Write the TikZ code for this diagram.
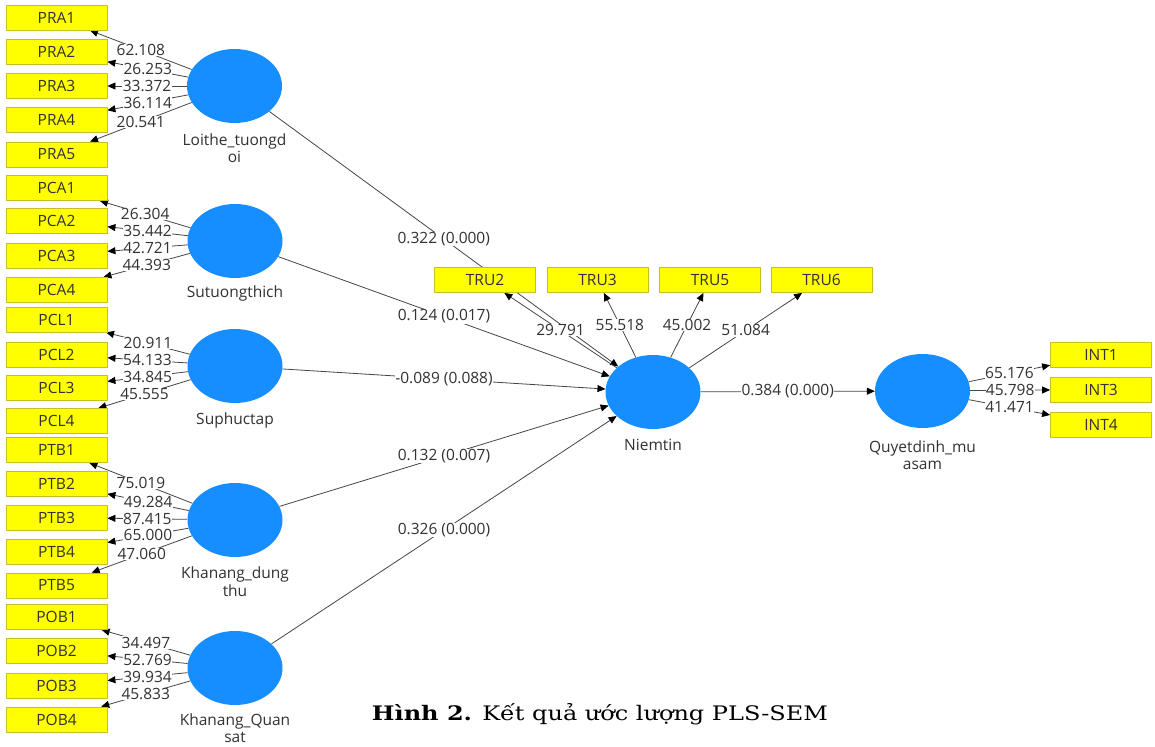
\documentclass[tikz,border=0pt]{standalone}
\usepackage{fontspec}
\usepackage{graphicx}
\setmainfont{Open Sans}
\newfontfamily\capfont{DejaVu Serif}
\usetikzlibrary{shapes.geometric,arrows.meta,backgrounds}
\definecolor{lvblue}{RGB}{22,142,255}
\definecolor{indfill}{RGB}{255,255,0}
\definecolor{indborder}{RGB}{200,190,40}
\definecolor{edgegray}{RGB}{70,70,70}
\definecolor{txtgray}{RGB}{50,50,50}
\begin{document}
\begin{tikzpicture}[x=1pt,y=-1pt,
 ind/.style={draw=indborder, fill=indfill, line width=0.8pt, minimum width=101pt, minimum height=25pt, inner sep=0pt, font=\fontsize{15.5}{17}\selectfont, text=txtgray},
 lv/.style={ellipse, fill=lvblue, minimum width=95pt, minimum height=74pt, inner sep=0pt},
 lvname/.style={font=\fontsize{15.5}{17.5}\selectfont, text=txtgray, align=center},
 wt/.style={fill=white, inner sep=0.4pt, font=\fontsize{15.5}{17}\selectfont, text=txtgray},
 conn/.style={draw=edgegray, line width=0.8pt, -{Triangle[length=8pt,width=7pt,color=black]}},
]
\useasboundingbox (0,0) rectangle (1155,746);

% indicator boxes (left)
\foreach \n/\y in {PRA1/17.5, PRA2/52, PRA3/86, PRA4/120, PRA5/154.5,
                   PCA1/188, PCA2/221, PCA3/255.5, PCA4/290,
                   PCL1/319.5, PCL2/354.5, PCL3/387.5, PCL4/421,
                   PTB1/450, PTB2/483.5, PTB3/517.5, PTB4/551.5, PTB5/585.5,
                   POB1/617, POB2/651, POB3/685.5, POB4/719.5}
  \node[ind] (\n) at (56.5,\y) {\n};
% indicator boxes (top)
\foreach \n/\x in {TRU2/485, TRU3/597.5, TRU5/710, TRU6/821.5}
  \node[ind] (\n) at (\x,280) {\n};
% indicator boxes (right)
\foreach \n/\y in {INT1/355, INT3/389.5, INT4/424.5}
  \node[ind] (\n) at (1101,\y) {\n};

% latent variables
\node[lv] (LT) at (234.5,86) {};
\node[lv] (ST) at (235,241) {};
\node[lv] (SP) at (235,366) {};
\node[lv] (KD) at (235,520) {};
\node[lv] (KQ) at (235,668) {};
\node[lv] (NT) at (653,392) {};
\node[lv] (QD) at (922.5,391) {};

\node[lvname] (LTn) at (234.5,148) {Loithe\_tuongd\\oi};
\node[lvname] (STn) at (235,293) {Sutuongthich};
\node[lvname] (SPn) at (235,420) {Suphuctap};
\node[lvname] (KDn) at (235,581.5) {Khanang\_dung\\thu};
\node[lvname] (KQn) at (235,728) {Khanang\_Quan\\sat};
\node[lvname] (NTn) at (653,445) {Niemtin};
\node[lvname] (QDn) at (922.5,455) {Quyetdinh\_mu\\asam};

\node[font=\capfont\fontsize{20}{22}\selectfont, text=black] (cap) at (600,714) {\scalebox{1.2}[1]{\textbf{Hình 2.} Kết quả ước lượng PLS-SEM}};

\begin{scope}[on background layer]
\fill[white] (0,0) rectangle (1155,746);
% structural paths
\draw[conn] (LT) -- node[wt]{0.322 (0.000)} (NT);
\draw[conn] (ST) -- node[wt]{0.124 (0.017)} (NT);
\draw[conn] (SP) -- node[wt]{-0.089 (0.088)} (NT);
\draw[conn] (KD) -- node[wt]{0.132 (0.007)} (NT);
\draw[conn] (KQ) -- node[wt]{0.326 (0.000)} (NT);
\draw[conn] (NT) -- node[wt]{0.384 (0.000)} (QD);
% outer loadings
\foreach \i/\v in {1/62.108, 2/26.253, 3/33.372, 4/36.114, 5/20.541}
  \draw[conn] (LT) -- node[wt]{\v} (PRA\i);
\foreach \i/\v in {1/26.304, 2/35.442, 3/42.721, 4/44.393}
  \draw[conn] (ST) -- node[wt]{\v} (PCA\i);
\foreach \i/\v in {1/20.911, 2/54.133, 3/34.845, 4/45.555}
  \draw[conn] (SP) -- node[wt]{\v} (PCL\i);
\foreach \i/\v in {1/75.019, 2/49.284, 3/87.415, 4/65.000, 5/47.060}
  \draw[conn] (KD) -- node[wt]{\v} (PTB\i);
\foreach \i/\v in {1/34.497, 2/52.769, 3/39.934, 4/45.833}
  \draw[conn] (KQ) -- node[wt]{\v} (POB\i);
\foreach \i/\v in {2/29.791, 3/55.518, 5/45.002, 6/51.084}
  \draw[conn] (NT) -- node[wt]{\v} (TRU\i);
\foreach \i/\v in {1/65.176, 3/45.798, 4/41.471}
  \draw[conn] (QD) -- node[wt]{\v} (INT\i);
\end{scope}
\end{tikzpicture}
\end{document}
